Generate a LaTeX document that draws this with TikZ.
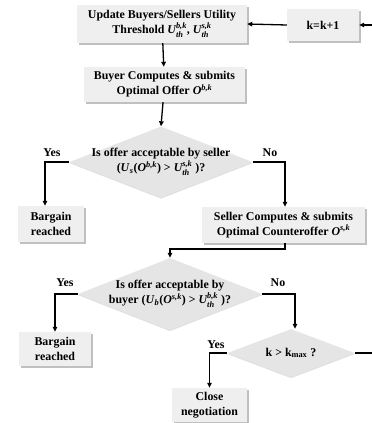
\documentclass[tikz,border=0pt]{standalone}
\usepackage{amsmath}
\usepackage{fontspec}
\setmainfont{Liberation Serif}
\usepackage{tikz}
\usetikzlibrary{shapes.geometric,shadows,arrows.meta}
\definecolor{boxfill}{HTML}{EFEFEF}
\definecolor{diafill}{HTML}{E5E5E5}
\tikzset{
  box/.style={rectangle, fill=boxfill, draw=none, align=center, inner sep=0pt,
    font=\bfseries\fontsize{11.9}{15}\selectfont,
    drop shadow={shadow xshift=1.6pt, shadow yshift=-1.6pt, fill=black!45, opacity=0.55}},
  dia/.style={diamond, fill=diafill, draw=none, inner sep=0pt,
    drop shadow={shadow xshift=0pt, shadow yshift=-1.2pt, fill=black!30, opacity=0.4}},
  dtext/.style={align=center, inner sep=0pt, font=\bfseries\fontsize{11.9}{15}\selectfont},
  lab/.style={font=\bfseries\fontsize{11.9}{15}\selectfont, inner sep=0pt},
  arr/.style={draw=black, line width=1.3pt, -{Triangle[length=5pt,width=4.5pt]}},
}
\newcommand{\ut}[1]{$\textit{U}^{\textit{#1}}_{\textit{th}}$}

\begin{document}
\begin{tikzpicture}[x=1pt,y=-1pt]
  \useasboundingbox (0,0) rectangle (372,423);
  \clip (0,0) rectangle (372,423);

  \node[box, minimum width=170pt, minimum height=38pt] (upd) at (162,24)
    {Update Buyers/Sellers Utility\\Threshold \ut{b,k}, \ut{s,k}};
  \node[box, minimum width=72pt, minimum height=32pt] (kbox) at (323,25) {k=k+1};
  \node[box, minimum width=161pt, minimum height=35pt] (offer) at (164.5,84.5)
    {Buyer Computes \& submits\\Optimal Offer $\textit{O}^{\textit{b,k}}$};

  \node[dia, minimum width=183pt, minimum height=71pt] (d1) at (161,162) {};
  \node[dtext] (q1) at (d1) {Is offer acceptable by seller\\
    (\textit{U}$_{\textit{s}}$(\textit{O}$^{\textit{b,k}}$) > \ut{s,k} )?};

  \node[box, minimum width=66pt, minimum height=36pt] (bar1) at (51,224) {Bargain\\reached};
  \node[box, minimum width=163pt, minimum height=36pt] (seller) at (283.5,225)
    {Seller Computes \& submits\\Optimal Counteroffer $\textit{O}^{\textit{s,k}}$};

  \node[dia, minimum width=184pt, minimum height=72pt] (d2) at (170,294) {};
  \node[dtext] (q2) at (d2) {Is offer acceptable by\\
    buyer (\textit{U}$_{\textit{b}}$(\textit{O}$^{\textit{s,k}}$) > \ut{b,k} )?};

  \node[box, minimum width=72pt, minimum height=34pt] (bar2) at (55,349) {Bargain\\reached};

  \node[dia, minimum width=127pt, minimum height=48pt] (d3) at (291,353) {};
  \node[dtext] (q3) at (d3) {k > k$_{\textbf{max}}$ ?};

  \node[box, minimum width=75pt, minimum height=34pt] (close) at (209.5,405) {Close\\negotiation};

  % elbow points
  \coordinate (c1) at (45,162);
  \coordinate (c2) at (285,162);
  \coordinate (c3) at (285,249);
  \coordinate (c4) at (55,294);
  \coordinate (c6) at (295,294);
  \coordinate (c5) at (385,353);

  \draw[arr] (kbox.west) -- (upd.east);
  \draw[arr] (upd) -- (offer);
  \draw[arr] (offer) -- (d1.north);
  \draw[arr] (d1.west) -- (c1) -- (c1 |- bar1.north);
  \draw[arr] (d1.east) -- (c2) -- (c2 |- seller.north);
  \draw[arr] (c3 |- seller.south) -- (c3) -| (d2.north);
  \draw[arr] (d2.west) -- (c4) -- (c4 |- bar2.north);
  \draw[arr] (d2.east) -- (c6) -- (c6 |- d3.north);
  \draw[arr] (d3.west) -| (close.north);
  \draw[arr] (d3.east) -- (c5) |- (kbox.east);

  \node[lab] (yes1) at (52,153) {Yes};
  \node[lab] (no1) at (270,153) {No};
  \node[lab] (yes2) at (65,283) {Yes};
  \node[lab] (no2) at (278,283) {No};
  \node[lab] (yes3) at (216,345) {Yes};
\end{tikzpicture}
\end{document}
